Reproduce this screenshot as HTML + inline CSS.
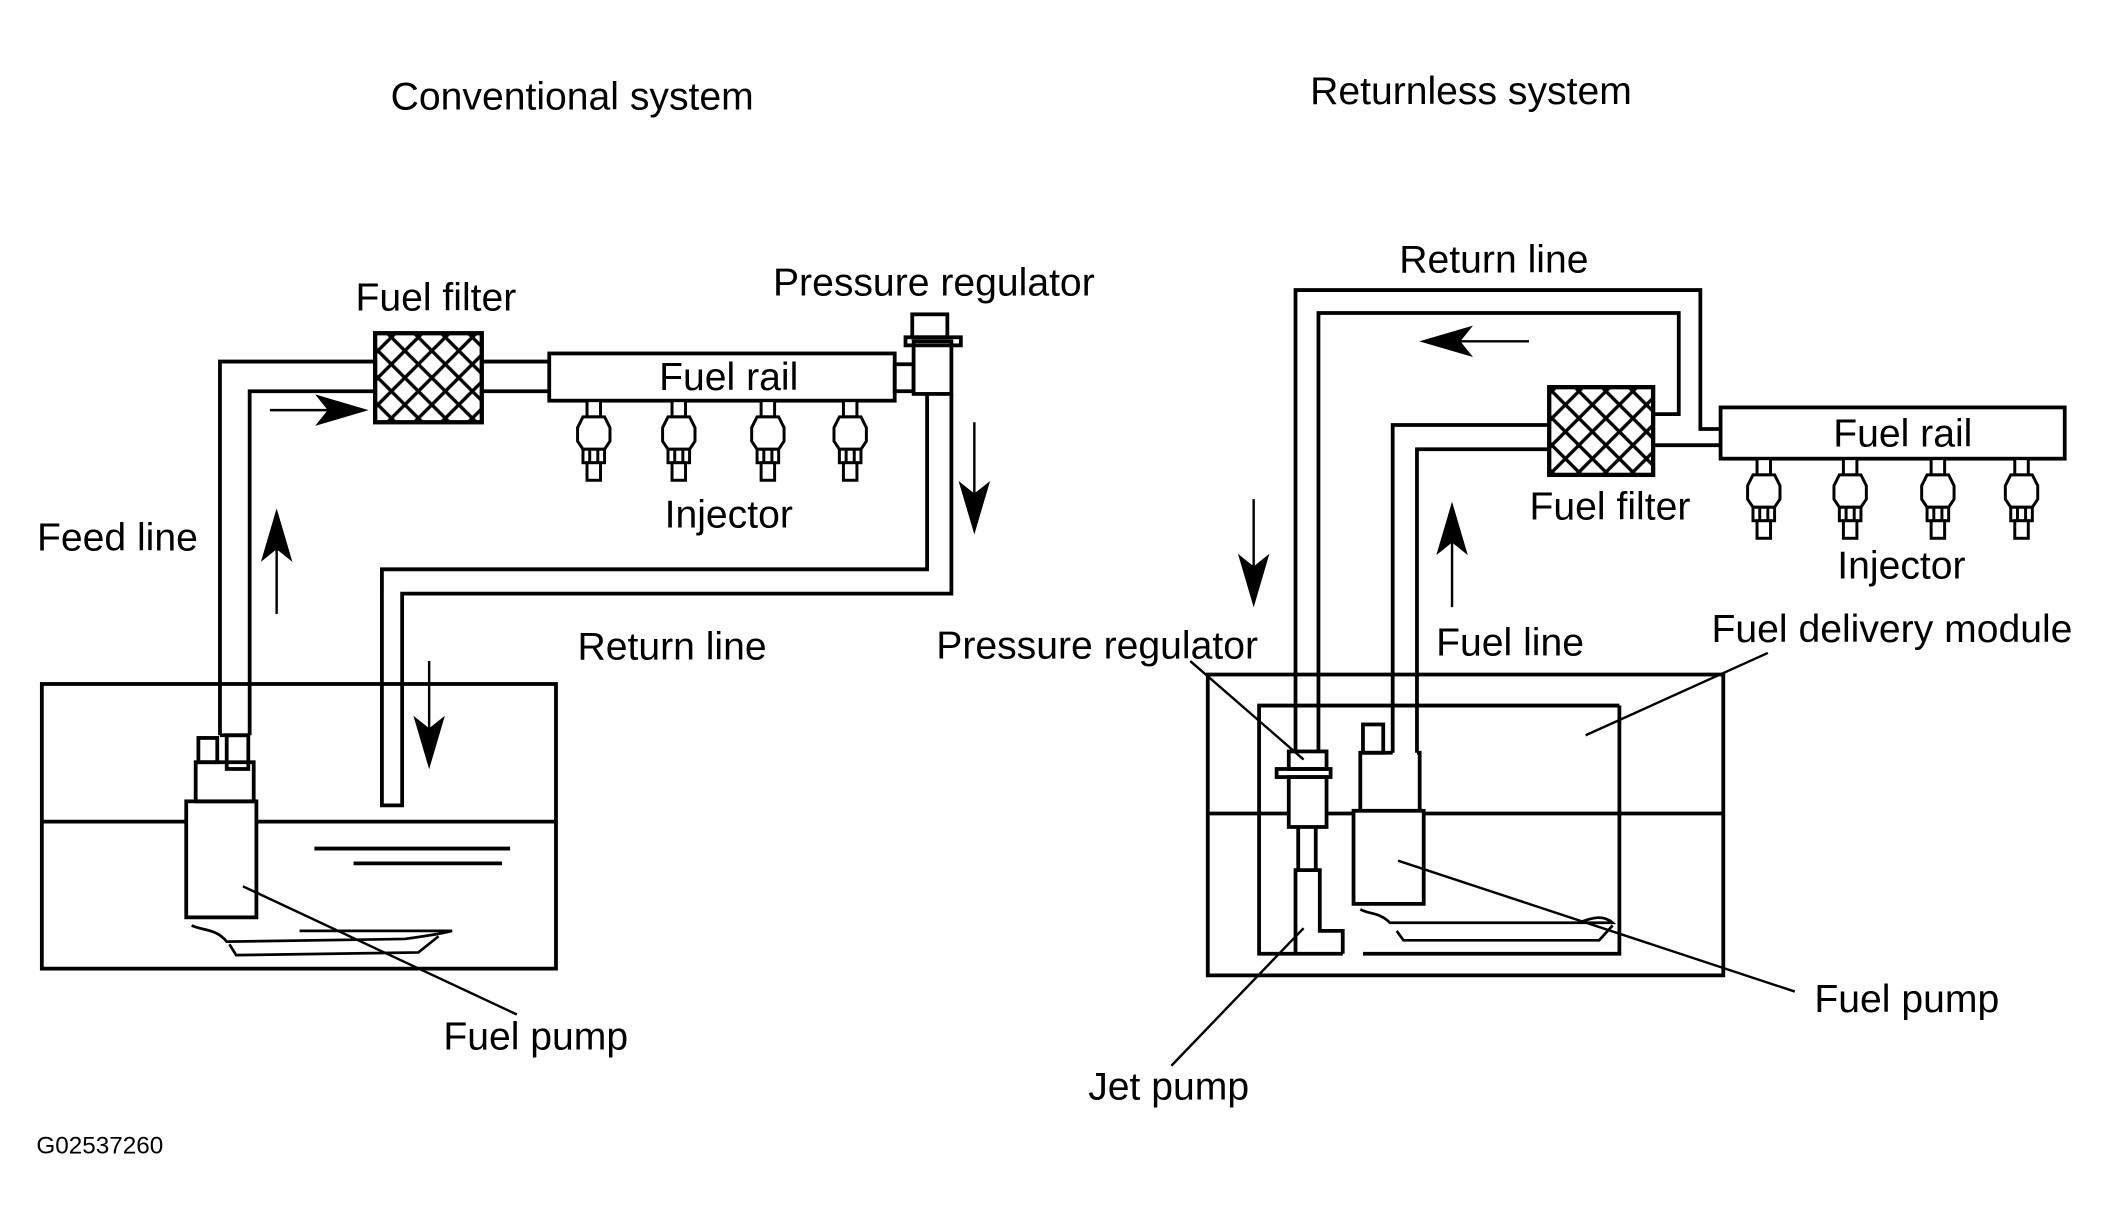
<!DOCTYPE html>
<html><head><meta charset="utf-8"><style>
html,body{margin:0;padding:0;background:#fff;}
svg{display:block;}
text{font-family:"Liberation Sans",sans-serif;fill:#000;}
</style></head><body>
<svg width="2116" height="1229" viewBox="0 0 1568 911" preserveAspectRatio="none" xmlns="http://www.w3.org/2000/svg">
<defs>
<pattern id="hatch" width="20" height="20" patternUnits="userSpaceOnUse">
<path d="M-5,5 L5,-5 M0,20 L20,0 M15,25 L25,15 M-5,15 L5,25 M0,0 L20,20 M15,-5 L25,5" stroke="#000" stroke-width="2.5"/>
</pattern>
</defs>
<g fill="none" stroke="#000" stroke-width="2.8">
<polyline points="163,545 163,268 278,268"/>
<polyline points="185,545 185,290 278,290"/>
<line x1="163" y1="545" x2="185" y2="545"/>
<rect x="278" y="247" width="79" height="66" fill="url(#hatch)" stroke-width="3.2"/>
<line x1="357" y1="268" x2="407" y2="268"/>
<line x1="357" y1="290" x2="407" y2="290"/>
<rect x="407" y="262" width="256" height="35"/>
<rect x="663" y="270" width="14" height="20"/>
<rect x="677" y="253" width="28" height="39"/>
<rect x="671" y="250" width="41" height="6"/>
<rect x="676" y="233" width="26" height="17"/>
<polyline points="687,292 687,422 283,422 283,597 298,597 298,440 705,440 705,292"/>
<rect x="31" y="507" width="381" height="211"/>
<line x1="31" y1="609" x2="138" y2="609"/>
<line x1="190" y1="609" x2="412" y2="609"/>
<line x1="233" y1="629" x2="378" y2="629"/>
<line x1="262" y1="640" x2="372" y2="640"/>
<rect x="138" y="594" width="52" height="86"/>
<rect x="145" y="565" width="43" height="29"/>
<rect x="147" y="547" width="14" height="18"/>
<rect x="168" y="545" width="16" height="25"/>
<path d="M142,686 C150,690 160,688 168,698 L300,696 C315,694 328,692 335,690 L222,690 M170,700 L175,708 L310,706 L325,694" stroke-width="2"/>
<line x1="180" y1="657" x2="383" y2="752" stroke-width="1.8"/>
<polyline points="960,557 960,215 1260,215 1260,318 1275,318"/>
<polyline points="977,557 977,232 1244,232 1244,307 1225,307"/>
<line x1="1225" y1="330" x2="1275" y2="330"/>
<rect x="1148" y="287" width="77" height="65" fill="url(#hatch)" stroke-width="3.2"/>
<polyline points="1148,315 1032,315 1032,558"/>
<polyline points="1148,333 1050,333 1050,558"/>
<rect x="1275" y="302" width="255" height="38"/>
<rect x="895" y="500" width="382" height="223"/>
<line x1="895" y1="603" x2="955" y2="603"/>
<line x1="983" y1="603" x2="1003" y2="603"/>
<line x1="1055" y1="603" x2="1277" y2="603"/>
<polyline points="1200,523 933,523 933,707 995,707"/>
<polyline points="1010,707 1200,707 1200,523"/>
<rect x="955" y="557" width="28" height="13"/>
<rect x="946" y="570" width="40" height="6"/>
<rect x="955" y="576" width="28" height="37"/>
<line x1="962" y1="613" x2="962" y2="645"/>
<line x1="975" y1="613" x2="975" y2="645"/>
<polyline points="960,707 960,645 978,645 978,690 995,690 995,707"/>
<rect x="1003" y="601" width="52" height="69"/>
<polyline points="1008,601 1008,558 1032,558"/>
<polyline points="1050,558 1052,558 1052,601"/>
<rect x="1010" y="537" width="15" height="21"/>
<path d="M1008,674 C1015,678 1022,676 1030,684 L1170,684 C1180,680 1188,678 1195,684 L1060,684 M1035,690 L1040,697 L1185,697 L1195,686" stroke-width="2"/>
<line x1="882" y1="490" x2="966" y2="563" stroke-width="1.8"/>
<line x1="1310" y1="484" x2="1175" y2="545" stroke-width="1.8"/>
<line x1="1036" y1="638" x2="1330" y2="735" stroke-width="1.8"/>
<line x1="868" y1="790" x2="966" y2="688" stroke-width="1.8"/>
</g>
<g fill="#fff" stroke="#000" stroke-width="2.2">
<g transform="translate(440,297)"><rect x="-5" y="0" width="10" height="12"/><polygon points="-8,12 8,12 12,20 12,30 8,36 -8,36 -12,30 -12,20"/><rect x="-8" y="36" width="16" height="10"/><line x1="-3" y1="36" x2="-3" y2="46"/><line x1="3" y1="36" x2="3" y2="46"/><rect x="-5" y="46" width="10" height="13"/></g>
<g transform="translate(503,297)"><rect x="-5" y="0" width="10" height="12"/><polygon points="-8,12 8,12 12,20 12,30 8,36 -8,36 -12,30 -12,20"/><rect x="-8" y="36" width="16" height="10"/><line x1="-3" y1="36" x2="-3" y2="46"/><line x1="3" y1="36" x2="3" y2="46"/><rect x="-5" y="46" width="10" height="13"/></g>
<g transform="translate(569,297)"><rect x="-5" y="0" width="10" height="12"/><polygon points="-8,12 8,12 12,20 12,30 8,36 -8,36 -12,30 -12,20"/><rect x="-8" y="36" width="16" height="10"/><line x1="-3" y1="36" x2="-3" y2="46"/><line x1="3" y1="36" x2="3" y2="46"/><rect x="-5" y="46" width="10" height="13"/></g>
<g transform="translate(630,297)"><rect x="-5" y="0" width="10" height="12"/><polygon points="-8,12 8,12 12,20 12,30 8,36 -8,36 -12,30 -12,20"/><rect x="-8" y="36" width="16" height="10"/><line x1="-3" y1="36" x2="-3" y2="46"/><line x1="3" y1="36" x2="3" y2="46"/><rect x="-5" y="46" width="10" height="13"/></g>
<g transform="translate(1307,340)"><rect x="-5" y="0" width="10" height="12"/><polygon points="-8,12 8,12 12,20 12,30 8,36 -8,36 -12,30 -12,20"/><rect x="-8" y="36" width="16" height="10"/><line x1="-3" y1="36" x2="-3" y2="46"/><line x1="3" y1="36" x2="3" y2="46"/><rect x="-5" y="46" width="10" height="13"/></g>
<g transform="translate(1371,340)"><rect x="-5" y="0" width="10" height="12"/><polygon points="-8,12 8,12 12,20 12,30 8,36 -8,36 -12,30 -12,20"/><rect x="-8" y="36" width="16" height="10"/><line x1="-3" y1="36" x2="-3" y2="46"/><line x1="3" y1="36" x2="3" y2="46"/><rect x="-5" y="46" width="10" height="13"/></g>
<g transform="translate(1436,340)"><rect x="-5" y="0" width="10" height="12"/><polygon points="-8,12 8,12 12,20 12,30 8,36 -8,36 -12,30 -12,20"/><rect x="-8" y="36" width="16" height="10"/><line x1="-3" y1="36" x2="-3" y2="46"/><line x1="3" y1="36" x2="3" y2="46"/><rect x="-5" y="46" width="10" height="13"/></g>
<g transform="translate(1498,340)"><rect x="-5" y="0" width="10" height="12"/><polygon points="-8,12 8,12 12,20 12,30 8,36 -8,36 -12,30 -12,20"/><rect x="-8" y="36" width="16" height="10"/><line x1="-3" y1="36" x2="-3" y2="46"/><line x1="3" y1="36" x2="3" y2="46"/><rect x="-5" y="46" width="10" height="13"/></g>
</g>
<g stroke="#000" stroke-width="1.8" fill="#000">
<line x1="200" y1="304" x2="250" y2="304"/><polygon points="270,304 236,294 244,304 236,314"/>
<line x1="205" y1="455" x2="205" y2="400"/><polygon points="205,380 195,414 205,406 215,414"/>
<line x1="722" y1="313" x2="722" y2="370"/><polygon points="722,393 712,359 722,367 732,359"/>
<line x1="318" y1="490" x2="318" y2="545"/><polygon points="318,567 308,533 318,541 328,533"/>
<line x1="1133" y1="253" x2="1075" y2="253"/><polygon points="1055,253 1089,243 1081,253 1089,263"/>
<line x1="929" y1="370" x2="929" y2="425"/><polygon points="929,447 919,413 929,421 939,413"/>
<line x1="1076" y1="450" x2="1076" y2="395"/><polygon points="1076,375 1066,409 1076,401 1086,409"/>
</g>
<g font-size="29" text-anchor="middle">
<text x="424" y="81">Conventional system</text>
<text x="1090" y="77">Returnless system</text>
<text x="323" y="230">Fuel filter</text>
<text x="692" y="219">Pressure regulator</text>
<text x="540" y="289">Fuel rail</text>
<text x="540" y="391">Injector</text>
<text x="87" y="408">Feed line</text>
<text x="498" y="489">Return line</text>
<text x="397" y="778">Fuel pump</text>
<text x="1107" y="202">Return line</text>
<text x="1193" y="385">Fuel filter</text>
<text x="1410" y="331">Fuel rail</text>
<text x="1409" y="429">Injector</text>
<text x="813" y="488">Pressure regulator</text>
<text x="1119" y="486">Fuel line</text>
<text x="1402" y="476">Fuel delivery module</text>
<text x="1413" y="750">Fuel pump</text>
<text x="866" y="815">Jet pump</text>
</g>
<text x="27" y="855" font-size="18">G02537260</text>
</svg>
</body></html>
